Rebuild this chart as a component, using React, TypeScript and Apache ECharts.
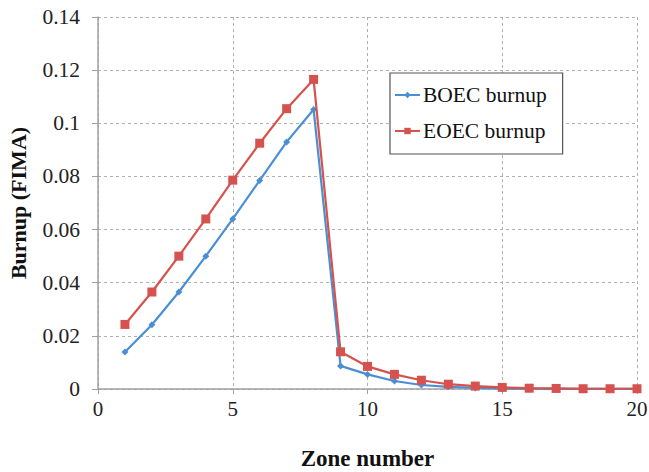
import React, { useEffect, useRef } from "react";
import * as echarts from "echarts";

const zones = [1, 2, 3, 4, 5, 6, 7, 8, 9, 10, 11, 12, 13, 14, 15, 16, 17, 18, 19, 20];
const boecBurnup = [0.0139, 0.0242, 0.0365, 0.05, 0.064, 0.0785, 0.093, 0.1052, 0.0087, 0.0055, 0.003, 0.0015, 0.0008, 0.0004, 0.0002, 0.0001, 0.00005, 0.00003, 0.00002, 0.00001];
const eoecBurnup = [0.0243, 0.0365, 0.05, 0.064, 0.0786, 0.0925, 0.1055, 0.1165, 0.014, 0.0085, 0.0055, 0.0033, 0.0018, 0.0011, 0.0006, 0.0003, 0.0002, 0.0001, 0.0001, 0.0001];
const seriesNames = ["BOEC burnup", "EOEC burnup"];

export default function App() {
  const ref = useRef<HTMLDivElement>(null);
  useEffect(() => {
    if (!ref.current) return;
    const chart = echarts.init(ref.current, null, { renderer: "svg" });
    const font = "'Liberation Serif', 'Times New Roman', serif";
    chart.setOption({
      animation: false,
      backgroundColor: "#ffffff",
      textStyle: { fontFamily: font },
      grid: { left: 98, top: 17, right: 12, bottom: 83, containLabel: false, outerBoundsMode: "none" },
      legend: {
        orient: "vertical",
        left: 390,
        top: 73,
        data: seriesNames,
        backgroundColor: "#ffffff",
        borderColor: "#555555",
        borderWidth: 1.2,
        padding: [11, 16, 12, 4],
        itemGap: 14,
        itemWidth: 25,
        itemHeight: 8,
        textStyle: { fontFamily: font, fontSize: 21.5, color: "#111111", padding: [0, 0, 0, -2] },
      },
      xAxis: {
        type: "value",
        min: 0,
        max: 20,
        interval: 5,
        name: "Zone number",
        nameLocation: "middle",
        nameGap: 58,
        nameTextStyle: { fontFamily: font, fontSize: 23, fontWeight: "bold", color: "#111" },
        axisLine: { show: true, lineStyle: { color: "#a0a0a0", width: 1.5 } },
        axisTick: { show: true, length: 5, lineStyle: { color: "#a0a0a0" } },
        axisLabel: { fontFamily: font, fontSize: 21, color: "#222", margin: 9 },
        splitLine: { show: true, lineStyle: { color: "#b0b0b0", type: [3, 3], width: 1 } },
      },
      yAxis: {
        type: "value",
        min: 0,
        max: 0.14,
        interval: 0.02,
        name: "Burnup (FIMA)",
        nameLocation: "middle",
        nameGap: 69,
        nameTextStyle: { fontFamily: font, fontSize: 22, fontWeight: "bold", color: "#111" },
        axisLine: { show: true, lineStyle: { color: "#a0a0a0", width: 1.5 } },
        axisTick: { show: true, length: 6, lineStyle: { color: "#a0a0a0" } },
        axisLabel: {
          fontFamily: font,
          fontSize: 21.5,
          color: "#222",
          margin: 18,
          formatter: (v: number) => String(parseFloat(v.toFixed(2))),
        },
        splitLine: { show: true, lineStyle: { color: "#b0b0b0", type: [3, 3], width: 1 } },
      },
      series: [
        {
          name: seriesNames[0],
          type: "line",
          data: zones.map((z, i) => [z, boecBurnup[i]]),
          symbol: "diamond",
          symbolSize: 7,
          itemStyle: { color: "#4a8fd4" },
          lineStyle: { color: "#4a8fd4", width: 2.2 },
          z: 2,
        },
        {
          name: seriesNames[1],
          type: "line",
          data: zones.map((z, i) => [z, eoecBurnup[i]]),
          symbol: "rect",
          symbolSize: 9,
          itemStyle: { color: "#d6524e" },
          lineStyle: { color: "#d6524e", width: 2.2 },
          z: 3,
        },
      ],
    });
    return () => chart.dispose();
  }, []);
  return (
    <div
      ref={ref}
      style={{ position: "absolute", left: 0, top: 0, width: 649, height: 472 }}
    />
  );
}
